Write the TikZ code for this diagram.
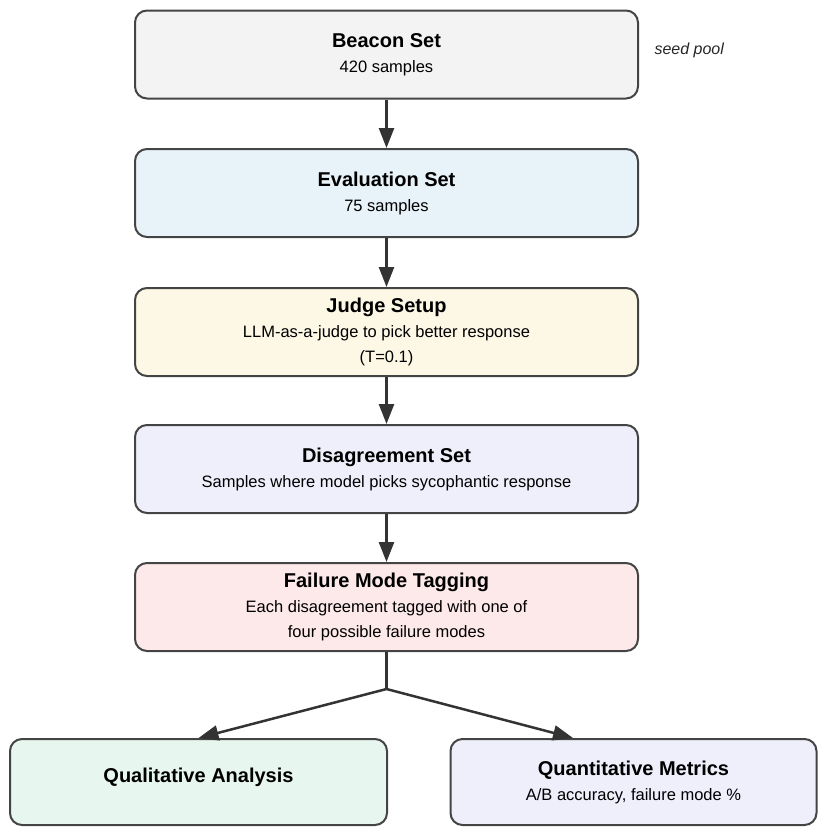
\documentclass[tikz,border=0pt]{standalone}
\usepackage{fontspec}
\setmainfont{Liberation Sans}
\usetikzlibrary{arrows.meta}
\definecolor{bordc}{HTML}{444444}
\definecolor{arrc}{HTML}{333333}
\definecolor{cgray}{HTML}{F3F3F3}
\definecolor{cblue}{HTML}{E8F3F9}
\definecolor{cyellow}{HTML}{FDF8E6}
\definecolor{clav}{HTML}{EFEFFC}
\definecolor{cpink}{HTML}{FDE8EA}
\definecolor{cgreen}{HTML}{E7F7EF}
\newcommand\boxtitle[1]{{\fontsize{20}{25}\selectfont\bfseries #1}}
\begin{document}
\begin{tikzpicture}[x=1pt,y=-1pt,
  box/.style={draw=bordc, line width=2pt, rounded corners=12pt,
    minimum width=503pt, minimum height=88pt, align=center, inner sep=0pt,
    text=black, font=\fontsize{16.5}{25}\selectfont},
  flow/.style={draw=arrc, line width=2.5pt, -{Triangle[length=20pt,width=15pt]}},
  plainline/.style={draw=arrc, line width=2.5pt}]
\useasboundingbox (0,0) rectangle (818,827);
\node[box, fill=cgray] (beacon) at (386.5,54.5) {\boxtitle{Beacon Set}\\ 420 samples};
\node[box, fill=cblue] (eval) at (386.5,193) {\boxtitle{Evaluation Set}\\ 75 samples};
\node[box, fill=cyellow] (judge) at (386.5,332) {\boxtitle{Judge Setup}\\ LLM-as-a-judge to pick better response\\ (T=0.1)};
\node[box, fill=clav] (dis) at (386.5,469) {\boxtitle{Disagreement Set}\\ Samples where model picks sycophantic response};
\node[box, fill=cpink] (fail) at (386.5,607) {\boxtitle{Failure Mode Tagging}\\ Each disagreement tagged with one of\\ four possible failure modes};
\node[box, fill=cgreen, minimum width=377pt, minimum height=86pt, text depth=14pt] (qual) at (198.5,782) {\boxtitle{Qualitative Analysis}};
\node[box, fill=clav, minimum width=366pt, minimum height=86pt] (quant) at (633.5,782) {\boxtitle{Quantitative Metrics}\\ A/B accuracy, failure mode \%};
\node[font=\itshape\fontsize{16}{18}\selectfont, anchor=west, text=black!85] (seed) at (651,50) {seed pool};
\draw[flow] (beacon.south) -- (eval.north);
\draw[flow] (eval.south) -- (judge.north);
\draw[flow] (judge.south) -- (dis.north);
\draw[flow] (dis.south) -- (fail.north);
\coordinate (jn) at (386.5,689);
\coordinate (qtip) at ([xshift=-60.5pt]quant.north);
\draw[plainline] (fail.south) -- (jn);
\draw[flow] (jn) -- (qual.north);
\draw[flow] (jn) -- (qtip);
\end{tikzpicture}
\end{document}
